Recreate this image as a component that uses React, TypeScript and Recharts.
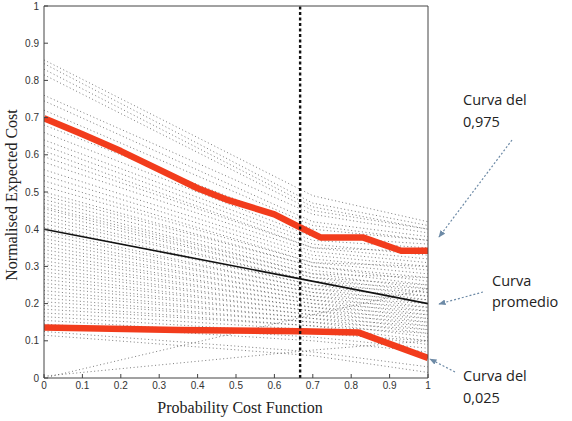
import React from 'react'
import { LineChart, Line, XAxis, YAxis, ReferenceLine } from 'recharts'

const axisTicks = [0, 0.1, 0.2, 0.3, 0.4, 0.5, 0.6, 0.7, 0.8, 0.9, 1]

// sampled cost curves, read at x = 0, 0.7 and 1
const sampleX = [0, 0.7, 1]
const sampleStart = [
  0.855, 0.845, 0.83, 0.815, 0.76, 0.745, 0.72, 0.68, 0.66, 0.64, 0.625, 0.61, 0.595, 0.58, 0.56,
  0.545, 0.53, 0.515, 0.5, 0.49, 0.48, 0.47, 0.46, 0.455, 0.445, 0.435, 0.425, 0.415, 0.405, 0.395,
  0.385, 0.375, 0.365, 0.355, 0.345, 0.335, 0.325, 0.315, 0.305, 0.295, 0.285, 0.275, 0.265, 0.255,
  0.245, 0.235, 0.225, 0.215, 0.205, 0.195, 0.185, 0.175, 0.165, 0.155, 0.145, 0.125, 0.115, 0.0, 0.005,
]
const sampleMid = [
  0.49, 0.47, 0.46, 0.45, 0.44, 0.42, 0.41, 0.4, 0.38, 0.37, 0.36, 0.35, 0.35, 0.34, 0.33,
  0.32, 0.31, 0.31, 0.3, 0.3, 0.29, 0.28, 0.28, 0.27, 0.27, 0.26, 0.26, 0.25, 0.25, 0.24,
  0.24, 0.23, 0.23, 0.22, 0.22, 0.21, 0.21, 0.2, 0.2, 0.19, 0.19, 0.18, 0.18, 0.17,
  0.17, 0.16, 0.16, 0.15, 0.15, 0.14, 0.14, 0.13, 0.12, 0.11, 0.1, 0.07, 0.06, 0.17, 0.075,
]
const sampleEnd = [
  0.42, 0.41, 0.4, 0.4, 0.39, 0.38, 0.37, 0.37, 0.36, 0.35, 0.33, 0.32, 0.34, 0.31, 0.3,
  0.29, 0.28, 0.3, 0.27, 0.26, 0.25, 0.27, 0.24, 0.23, 0.25, 0.22, 0.24, 0.21, 0.23, 0.2,
  0.22, 0.19, 0.21, 0.18, 0.2, 0.17, 0.19, 0.16, 0.18, 0.15, 0.17, 0.14, 0.16, 0.13,
  0.15, 0.12, 0.14, 0.11, 0.13, 0.1, 0.12, 0.09, 0.1, 0.08, 0.07, 0.03, 0.015, 0.24, 0.1,
]

// 0.975 percentile curve
const upperX = [0, 0.1, 0.2, 0.3, 0.4, 0.48, 0.6, 0.667, 0.72, 0.83, 0.93, 1]
const upperY = [0.698, 0.655, 0.61, 0.56, 0.51, 0.478, 0.44, 0.405, 0.378, 0.378, 0.342, 0.342]

// 0.025 percentile curve
const lowerX = [0, 0.35, 0.667, 0.82, 1]
const lowerY = [0.136, 0.129, 0.126, 0.122, 0.054]

// mean curve
const meanX = [0, 1]
const meanY = [0.4, 0.2]

const operatingPoint = 0.667

const toPoints = (xs: number[], ys: number[]) => xs.map((x, i) => ({ x, y: ys[i] }))

const sampleCurves = sampleStart.map((s, i) =>
  toPoints(sampleX, [s, sampleMid[i], sampleEnd[i]])
)

const tickStyle = { fontSize: 10, fill: '#333', fontFamily: 'Liberation Sans, Arial, sans-serif' }
const axisColor = '#444'

const annoFont = { fontFamily: 'Open Sans, sans-serif', fontSize: 14.5, fill: '#222' }
const arrowColor = '#6d8aa6'

export default function App() {
  return (
    <div style={{ position: 'absolute', left: 0, top: 0, width: 572, height: 421, background: '#fff' }}>
      <LineChart
        width={572}
        height={421}
        margin={{ top: 5, right: 143, bottom: 13, left: 4 }}
      >
        <XAxis
          dataKey="x"
          type="number"
          domain={[0, 1]}
          ticks={axisTicks}
          allowDataOverflow
          height={30}
          stroke={axisColor}
          tickSize={-4}
          tickMargin={8}
          tick={tickStyle}
        />
        <XAxis
          xAxisId="top"
          orientation="top"
          type="number"
          domain={[0, 1]}
          ticks={axisTicks}
          height={1}
          stroke={axisColor}
          tickSize={-4}
          tick={false}
        />
        <YAxis
          type="number"
          domain={[0, 1]}
          ticks={axisTicks}
          allowDataOverflow
          width={40}
          stroke={axisColor}
          tickSize={-4}
          tickMargin={9}
          tick={tickStyle}
        />
        <YAxis
          yAxisId="right"
          orientation="right"
          type="number"
          domain={[0, 1]}
          ticks={axisTicks}
          width={1}
          stroke={axisColor}
          tickSize={-4}
          tick={false}
        />
        {sampleCurves.map((pts, i) => (
          <Line
            key={i}
            data={pts}
            dataKey="y"
            type="linear"
            stroke="#505050"
            strokeWidth={0.75}
            strokeDasharray="1 2.6"
            dot={false}
            activeDot={false}
            isAnimationActive={false}
          />
        ))}
        <Line
          data={toPoints(meanX, meanY)}
          dataKey="y"
          type="linear"
          stroke="#111"
          strokeWidth={1.6}
          dot={false}
          activeDot={false}
          isAnimationActive={false}
        />
        <Line
          data={toPoints(upperX, upperY)}
          dataKey="y"
          type="linear"
          stroke="#f23c1c"
          strokeWidth={6.5}
          strokeLinejoin="round"
          dot={false}
          activeDot={false}
          isAnimationActive={false}
        />
        <Line
          data={toPoints(lowerX, lowerY)}
          dataKey="y"
          type="linear"
          stroke="#f23c1c"
          strokeWidth={6.5}
          strokeLinejoin="round"
          dot={false}
          activeDot={false}
          isAnimationActive={false}
        />
        <ReferenceLine x={operatingPoint} stroke="#111" strokeWidth={2.4} strokeDasharray="3 2.5" />
      </LineChart>

      <svg
        width={572}
        height={421}
        style={{ position: 'absolute', left: 0, top: 0, pointerEvents: 'none' }}
      >
        <defs>
          <marker id="head" viewBox="0 0 10 10" refX="9" refY="5" markerWidth="6" markerHeight="6" orient="auto">
            <path d="M0,1 L10,5 L0,9 z" fill={arrowColor} />
          </marker>
        </defs>
        <text
          x={240}
          y={413}
          textAnchor="middle"
          fontFamily="Liberation Serif, Times New Roman, serif"
          fontSize={16}
          fill="#222"
        >
          Probability Cost Function
        </text>
        <text
          transform="translate(17,195) rotate(-90)"
          textAnchor="middle"
          fontFamily="Liberation Serif, Times New Roman, serif"
          fontSize={16}
          fill="#222"
        >
          Normalised Expected Cost
        </text>

        <text x={463} y={105} {...annoFont}>Curva del</text>
        <text x={463} y={127} {...annoFont}>0,975</text>
        <text x={492} y={286} {...annoFont}>Curva</text>
        <text x={492} y={307} {...annoFont}>promedio</text>
        <text x={463} y={381} {...annoFont}>Curva del</text>
        <text x={463} y={403} {...annoFont}>0,025</text>

        <g stroke={arrowColor} strokeWidth={1.2} strokeDasharray="2 2" fill="none">
          <line x1={512} y1={140} x2={439} y2={237} markerEnd="url(#head)" />
          <line x1={483} y1={292} x2={439} y2={304} markerEnd="url(#head)" />
          <line x1={455} y1={372} x2={430} y2={359} markerEnd="url(#head)" />
        </g>
      </svg>
    </div>
  )
}
